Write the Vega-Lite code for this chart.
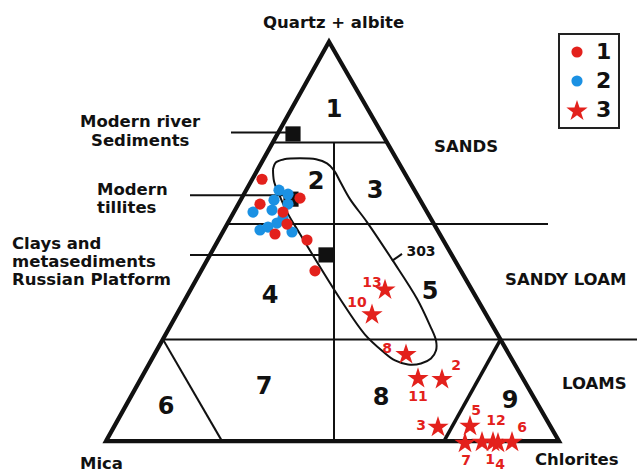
{
  "$schema": "https://vega.github.io/schema/vega-lite/v6.json",
  "width": 644,
  "height": 473,
  "autosize": {"type": "fit", "contains": "padding"},
  "padding": 0,
  "background": "white",
  "config": {
    "view": {"stroke": null},
    "legend": {
      "padding": 7,
      "rowPadding": 7,
      "labelOffset": 8,
      "labelFont": "DejaVu Sans",
      "labelFontWeight": "bold",
      "labelFontSize": 22,
      "labelColor": "#111",
      "symbolSize": 125,
      "symbolStrokeWidth": 0,
      "symbolOpacity": 1,
      "strokeColor": "#222",
      "strokeWidth": 2,
      "fillColor": "white"
    }
  },
  "datasets": {
    "frame": [
      {"x": 329, "y": 42, "i": 0},
      {"x": 106, "y": 443, "i": 1},
      {"x": 559, "y": 443, "i": 2},
      {"x": 329, "y": 42, "i": 3},
      {"x": 106, "y": 443, "i": 4}
    ],
    "segs": [
      {"x": 273, "y": 143, "x2": 387, "y2": 143, "kind": "thin"},
      {"x": 334, "y": 143, "x2": 334, "y2": 443, "kind": "thin"},
      {"x": 227, "y": 225, "x2": 548, "y2": 225, "kind": "thin"},
      {"x": 163, "y": 341, "x2": 637, "y2": 341, "kind": "thin"},
      {"x": 163, "y": 341, "x2": 222, "y2": 443, "kind": "thin"},
      {"x": 231, "y": 133, "x2": 288, "y2": 133, "kind": "thin"},
      {"x": 190, "y": 196, "x2": 288, "y2": 196, "kind": "thin"},
      {"x": 190, "y": 256, "x2": 322, "y2": 256, "kind": "thin"},
      {"x": 392, "y": 262, "x2": 402, "y2": 255, "kind": "thin"},
      {"x": 500.5, "y": 341, "x2": 444, "y2": 443, "kind": "medium"}
    ],
    "loop": [
      {"x": 273, "y": 170, "i": 1},
      {"x": 276, "y": 163, "i": 2},
      {"x": 284, "y": 160, "i": 3},
      {"x": 300, "y": 159, "i": 4},
      {"x": 316, "y": 160, "i": 5},
      {"x": 327, "y": 164, "i": 6},
      {"x": 334, "y": 171, "i": 7},
      {"x": 340, "y": 182, "i": 8},
      {"x": 350, "y": 200, "i": 9},
      {"x": 367, "y": 223, "i": 10},
      {"x": 393, "y": 262, "i": 11},
      {"x": 417, "y": 300, "i": 12},
      {"x": 430, "y": 327, "i": 13},
      {"x": 436, "y": 342, "i": 14},
      {"x": 436, "y": 352, "i": 15},
      {"x": 431, "y": 360, "i": 16},
      {"x": 421, "y": 365, "i": 17},
      {"x": 408, "y": 366, "i": 18},
      {"x": 395, "y": 362, "i": 19},
      {"x": 383, "y": 353, "i": 20},
      {"x": 365, "y": 336, "i": 21},
      {"x": 340, "y": 300, "i": 22},
      {"x": 300, "y": 235, "i": 23},
      {"x": 287, "y": 213, "i": 24},
      {"x": 279, "y": 195, "i": 25},
      {"x": 274, "y": 182, "i": 26},
      {"x": 273, "y": 170, "i": 27}
    ],
    "squares": [
      {"x": 293, "y": 134.5},
      {"x": 291, "y": 200},
      {"x": 326, "y": 256}
    ],
    "pts": [
      {"x": 279, "y": 191, "series": "2"},
      {"x": 288, "y": 195, "series": "2"},
      {"x": 274, "y": 201, "series": "2"},
      {"x": 288, "y": 205, "series": "2"},
      {"x": 272, "y": 211, "series": "2"},
      {"x": 253, "y": 213, "series": "2"},
      {"x": 260, "y": 231, "series": "2"},
      {"x": 268, "y": 228, "series": "2"},
      {"x": 277, "y": 224, "series": "2"},
      {"x": 283, "y": 219, "series": "2"},
      {"x": 292, "y": 233, "series": "2"},
      {"x": 262, "y": 180, "series": "1"},
      {"x": 300, "y": 199, "series": "1"},
      {"x": 260, "y": 205, "series": "1"},
      {"x": 283, "y": 213, "series": "1"},
      {"x": 287, "y": 225, "series": "1"},
      {"x": 275, "y": 235, "series": "1"},
      {"x": 307, "y": 241, "series": "1"},
      {"x": 315, "y": 272, "series": "1"},
      {"x": 385, "y": 290, "series": "3"},
      {"x": 372, "y": 315, "series": "3"},
      {"x": 406, "y": 355, "series": "3"},
      {"x": 418, "y": 379, "series": "3"},
      {"x": 442, "y": 380, "series": "3"},
      {"x": 438, "y": 428, "series": "3"},
      {"x": 470, "y": 427, "series": "3"},
      {"x": 465, "y": 444, "series": "3"},
      {"x": 482, "y": 443, "series": "3"},
      {"x": 493, "y": 443, "series": "3"},
      {"x": 498, "y": 444, "series": "3"},
      {"x": 512, "y": 443, "series": "3"}
    ],
    "regions": [
      {"x": 334, "y": 117, "t": "1"},
      {"x": 316, "y": 190, "t": "2"},
      {"x": 375, "y": 199, "t": "3"},
      {"x": 270, "y": 304, "t": "4"},
      {"x": 430, "y": 300, "t": "5"},
      {"x": 166, "y": 416, "t": "6"},
      {"x": 264, "y": 396, "t": "7"},
      {"x": 381, "y": 407, "t": "8"},
      {"x": 510, "y": 410, "t": "9"}
    ],
    "notes": [
      {"x": 263, "y": 28, "t": "Quartz + albite"},
      {"x": 80, "y": 128, "t": "Modern river"},
      {"x": 91, "y": 146.5, "t": "Sediments"},
      {"x": 97, "y": 196, "t": "Modern"},
      {"x": 97, "y": 214, "t": "tillites"},
      {"x": 12, "y": 250, "t": "Clays and"},
      {"x": 12, "y": 268, "t": "metasediments"},
      {"x": 12, "y": 286, "t": "Russian Platform"},
      {"x": 434, "y": 153, "t": "SANDS"},
      {"x": 505, "y": 286, "t": "SANDY LOAM"},
      {"x": 562, "y": 391, "t": "LOAMS"},
      {"x": 80, "y": 471, "t": "Mica"},
      {"x": 535, "y": 467, "t": "Chlorites"}
    ],
    "starLabels": [
      {"x": 372, "y": 288, "t": "13"},
      {"x": 357, "y": 308, "t": "10"},
      {"x": 387, "y": 355, "t": "8"},
      {"x": 418, "y": 403, "t": "11"},
      {"x": 456, "y": 372, "t": "2"},
      {"x": 421, "y": 432, "t": "3"},
      {"x": 476, "y": 417, "t": "5"},
      {"x": 496, "y": 427, "t": "12"},
      {"x": 522, "y": 434, "t": "6"},
      {"x": 466, "y": 467, "t": "7"},
      {"x": 490, "y": 466, "t": "1"},
      {"x": 500, "y": 471, "t": "4"}
    ],
    "envLabel": [
      {"x": 421, "y": 257, "t": "303"}
    ]
  },
  "encoding": {
    "x": {"field": "x", "type": "quantitative", "axis": null, "scale": {"domain": [0, 644], "nice": false, "zero": false}},
    "y": {"field": "y", "type": "quantitative", "axis": null, "scale": {"domain": [0, 473], "reverse": true, "nice": false, "zero": false}}
  },
  "layer": [
    {
      "data": {"name": "segs"},
      "transform": [{"filter": "datum.kind === 'thin'"}],
      "mark": {"type": "rule", "color": "#111", "strokeWidth": 2},
      "encoding": {"x2": {"field": "x2"}, "y2": {"field": "y2"}}
    },
    {
      "data": {"name": "segs"},
      "transform": [{"filter": "datum.kind === 'medium'"}],
      "mark": {"type": "rule", "color": "#111", "strokeWidth": 3.5},
      "encoding": {"x2": {"field": "x2"}, "y2": {"field": "y2"}}
    },
    {
      "data": {"name": "frame"},
      "mark": {"type": "line", "color": "#111", "strokeWidth": 4.2, "strokeJoin": "miter", "strokeCap": "butt"},
      "encoding": {"order": {"field": "i", "type": "quantitative"}}
    },
    {
      "data": {"name": "loop"},
      "mark": {"type": "line", "color": "#111", "strokeWidth": 2, "interpolate": "catmull-rom"},
      "encoding": {"order": {"field": "i", "type": "quantitative"}}
    },
    {
      "data": {"name": "squares"},
      "mark": {"type": "point", "shape": "square", "filled": true, "color": "#111", "opacity": 1, "size": 230}
    },
    {
      "data": {"name": "pts"},
      "mark": {"type": "point", "filled": true, "opacity": 1, "size": 125, "strokeWidth": 0},
      "encoding": {
        "color": {
          "field": "series", "type": "nominal",
          "scale": {"domain": ["1", "2", "3"], "range": ["#e3211c", "#1b91e3", "#e3211c"]},
          "legend": {"title": null, "orient": "none", "legendX": 559, "legendY": 34}
        },
        "shape": {
          "field": "series", "type": "nominal",
          "scale": {"domain": ["1", "2", "3"], "range": ["circle", "circle", "M0,-1.81L0.45,-0.428L1.902,-0.428L0.726,0.428L1.176,1.81L0,0.956L-1.176,1.81L-0.726,0.428L-1.902,-0.428L-0.45,-0.428Z"]},
          "legend": {"title": null, "orient": "none", "legendX": 559, "legendY": 34}
        }
      }
    },
    {
      "data": {"name": "regions"},
      "mark": {"type": "text", "font": "DejaVu Sans", "fontWeight": "bold", "fontSize": 24, "align": "center", "baseline": "alphabetic", "color": "#111"},
      "encoding": {"text": {"field": "t"}}
    },
    {
      "data": {"name": "notes"},
      "mark": {"type": "text", "font": "DejaVu Sans", "fontWeight": "bold", "fontSize": 16.5, "align": "left", "baseline": "alphabetic", "color": "#111"},
      "encoding": {"text": {"field": "t"}}
    },
    {
      "data": {"name": "starLabels"},
      "mark": {"type": "text", "font": "DejaVu Sans", "fontWeight": "bold", "fontSize": 14, "align": "center", "baseline": "alphabetic", "color": "#e3211c"},
      "encoding": {"text": {"field": "t"}}
    },
    {
      "data": {"name": "envLabel"},
      "mark": {"type": "text", "font": "DejaVu Sans", "fontWeight": "bold", "fontSize": 14, "align": "center", "baseline": "alphabetic", "color": "#111"},
      "encoding": {"text": {"field": "t"}}
    }
  ]
}
